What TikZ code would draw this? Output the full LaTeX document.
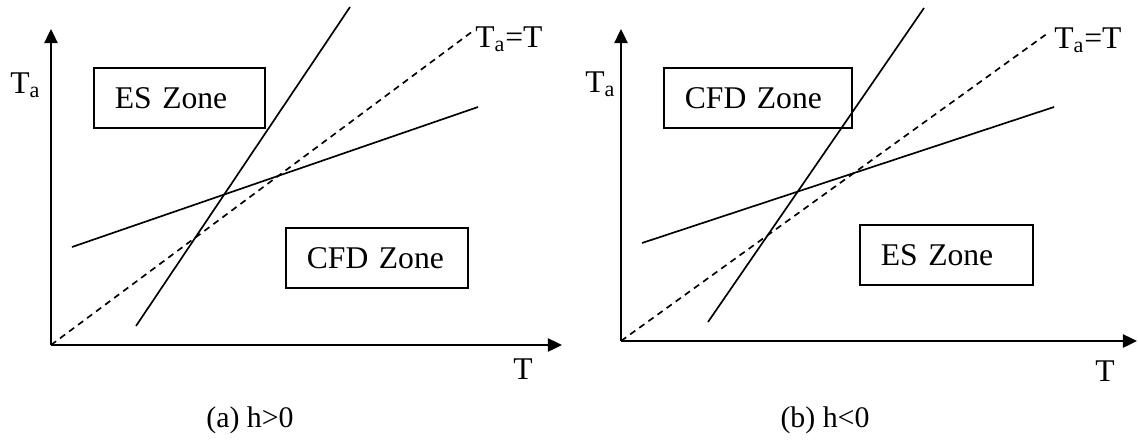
\documentclass[tikz,border=0pt]{standalone}
\usepackage{fontspec}
\setmainfont{Liberation Serif}
\usetikzlibrary{arrows.meta,positioning}

\begin{document}
\begin{tikzpicture}[
    x=0.02cm, y=0.02cm,
    font=\fontsize{18}{22}\selectfont,
    axisLine/.style={
        -{Triangle[length=8pt, width=7.5pt]}, line width=1.1pt, draw=black
    },
    zoneLine/.style={
        line width=0.95pt, draw=black
    },
    equalLine/.style={
        line width=0.95pt, draw=black, dash pattern=on 3.6pt off 2.8pt
    },
    zoneBox/.style={
        rectangle, draw=black, line width=0.95pt, inner xsep=0.42cm, inner ysep=0pt,
        minimum height=1.2cm, align=left, anchor=north west
    },
    axisTxt/.style={
        inner sep=0pt, anchor=base west
    },
    captionTxt/.style={
        inner sep=0pt, anchor=base, font=\fontsize{17}{20}\selectfont
    }
]
\useasboundingbox (0,0) rectangle (1138,444);

% (a) h>0
\coordinate (oA) at (51,99);
\coordinate (yA) at (51,415);
\coordinate (xA) at (562,99);
\coordinate (eqA) at (473,413);
\coordinate (stA1) at (136,118);
\coordinate (stA2) at (350,437);
\coordinate (shA1) at (72,197);
\coordinate (shA2) at (478,337);

\node[axisTxt] (taA) at (10,351) {T\textsubscript{a}};
\node[axisTxt, anchor=base] (tA) at (523,65) {T};
\node[axisTxt] (eqlA) at (475,397) {T\textsubscript{a}=T};

\node[zoneBox, text width=2.58cm] (esA) at (93,377) {ES Zone};
\node[zoneBox, text width=2.8cm] (cfdA) at (285,217) {CFD Zone};

\draw[axisLine] (oA) -- (yA);
\draw[axisLine] (oA) -- (xA);
\draw[equalLine] (oA) -- (eqA);
\draw[zoneLine] (stA1) -- (stA2);
\draw[zoneLine] (shA1) -- (shA2);

\node[captionTxt] (capA) at (250,17) {(a) h>0};

% (b) h<0
\coordinate (oB) at (621,103);
\coordinate (yB) at (621,415);
\coordinate (xB) at (1137,103);
\coordinate (eqB) at (1048,411);
\coordinate (stB1) at (708,122);
\coordinate (stB2) at (924,436);
\coordinate (shB1) at (642,201);
\coordinate (shB2) at (1054,337);

\node[axisTxt] (taB) at (585,352) {T\textsubscript{a}};
\node[axisTxt, anchor=base] (tB) at (1105,63) {T};
\node[axisTxt] (eqlB) at (1054,396) {T\textsubscript{a}=T};

\node[zoneBox, text width=2.92cm] (cfdB) at (663,377) {CFD Zone};
\node[zoneBox, text width=2.62cm] (esB) at (859,220) {ES Zone};

\draw[axisLine] (oB) -- (yB);
\draw[axisLine] (oB) -- (xB);
\draw[equalLine] (oB) -- (eqB);
\draw[zoneLine] (stB1) -- (stB2);
\draw[zoneLine] (shB1) -- (shB2);

\node[captionTxt] (capB) at (825,17) {(b) h<0};

\end{tikzpicture}
\end{document}
